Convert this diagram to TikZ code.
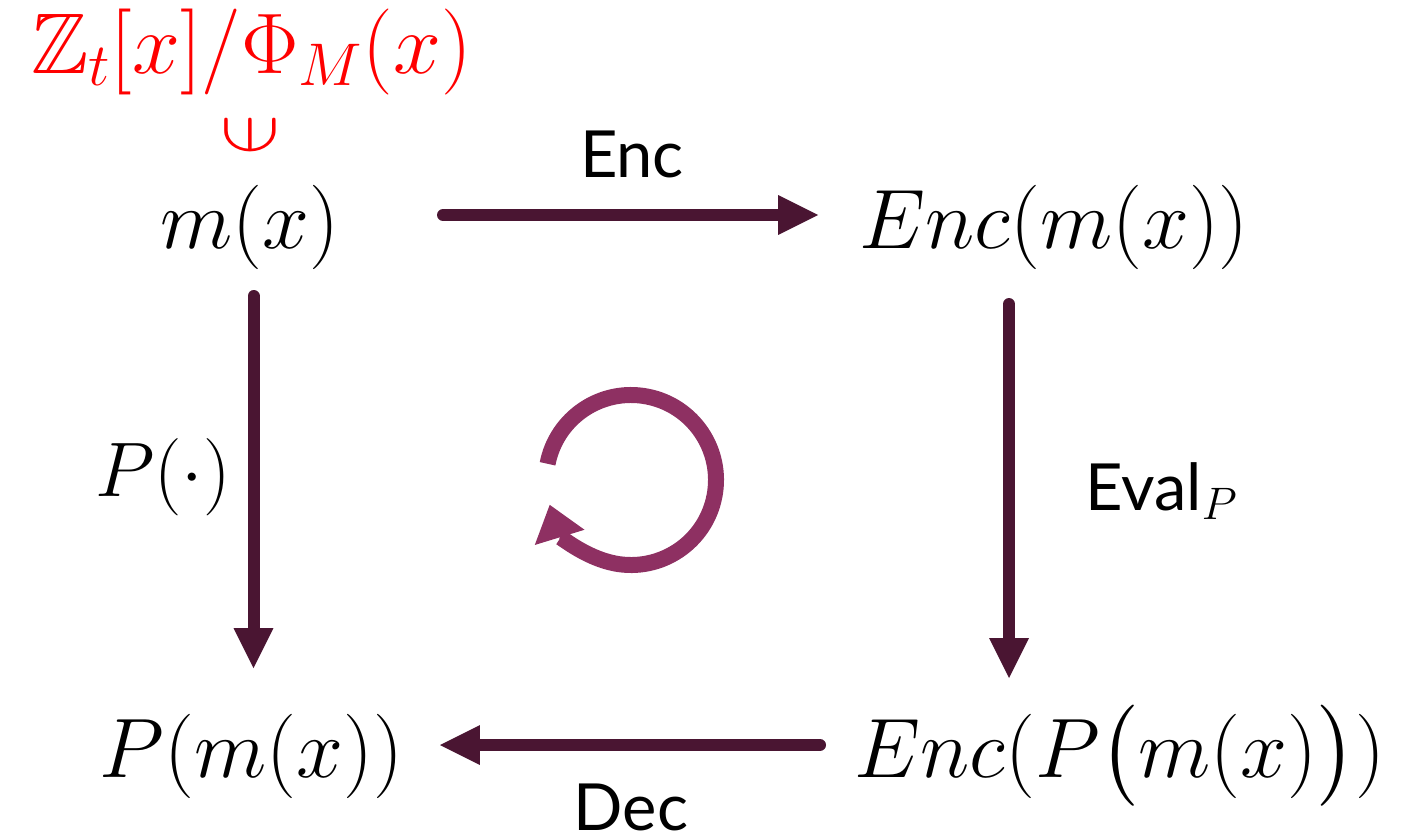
\RequirePackage{fix-cm}
\documentclass[tikz,border=0pt]{standalone}
\usepackage{amsmath,amssymb}
\usepackage{fontspec}
\usepackage{xcolor}
\usepackage{graphicx}
\usepackage{tikz}
\usetikzlibrary{arrows.meta,positioning}
\DeclareFontFamily{U}{msb}{}
\DeclareFontShape{U}{msb}{m}{n}{<-6>msbm5<6-8>msbm7<8->msbm10}{}
\newfontfamily\lblfont{Lato}
\definecolor{arrdark}{HTML}{4A1532}
\definecolor{cycpurple}{HTML}{8E3062}
\tikzset{
  mnode/.style={inner sep=0pt, anchor=base, font=\fontsize{48}{57}\selectfont},
  lbl/.style={inner sep=0pt, anchor=base, font=\lblfont\fontsize{37}{44}\selectfont},
  farr/.style={-{Triangle[length=0.8cm,width=0.8cm,line width=0pt]}, line width=0.24cm, line cap=round, draw=arrdark},
  cycarr/.style={-{Triangle[length=0.68cm,width=1.04cm,line width=0pt]}, line width=0.32cm, draw=cycpurple}
}
\begin{document}
\begin{tikzpicture}[x=0.02cm,y=0.02cm]
\useasboundingbox (0,0) rectangle (1410,-835);
% corners of the square
\node[mnode] (m) at (250,-248) {$m(x)$};
\node[mnode] (em) at (1054,-248) {$Enc(m(x))$};
\node[mnode] (pm) at (251.5,-777) {$P(m(x))$};
\node[mnode] (epm) at (1120,-777) {$Enc(P\big(m(x)\big))$};
% plaintext ring
\node[mnode, text=red, font=\fontsize{49}{58}\selectfont] (ring) at (251.5,-73) {$\mathbb{Z}_t[x]/\Phi_M(x)$};
\node[mnode, anchor=south, text=red, above=0.54cm of m] (elem) {\rotatebox{90}{\scalebox{0.8}[1.05]{$\in$}}};
% arrow labels
\node[lbl] (lenc) at (632,-177) {Enc};
\node[lbl] (ldec) at (631,-830) {Dec};
\node[lbl, anchor=base west] (leval) at (1085,-510) {Eval$_P$};
\node[mnode, font=\fontsize{44}{52}\selectfont] (lpdot) at (163,-496) {$P(\cdot)$};
% arrows
\draw[farr] ([shift={(193,33)}]m.base) -- ([shift={(-236,33)}]em.base);
\draw[farr] ([shift={(3.5,-48)}]m.base) -- ([shift={(2,109)}]pm.base);
\draw[farr] ([shift={(-45,-56)}]em.base) -- ([shift={(-111,99)}]epm.base);
\draw[farr] ([shift={(-300,32)}]epm.base) -- ([shift={(188.5,32)}]pm.base);
% commuting loop
\coordinate (loop) at (631,-480);
\draw[cycarr] ([shift={(169:85)}]loop) arc[start angle=169, end angle=-163, radius=85];
\end{tikzpicture}
\end{document}
